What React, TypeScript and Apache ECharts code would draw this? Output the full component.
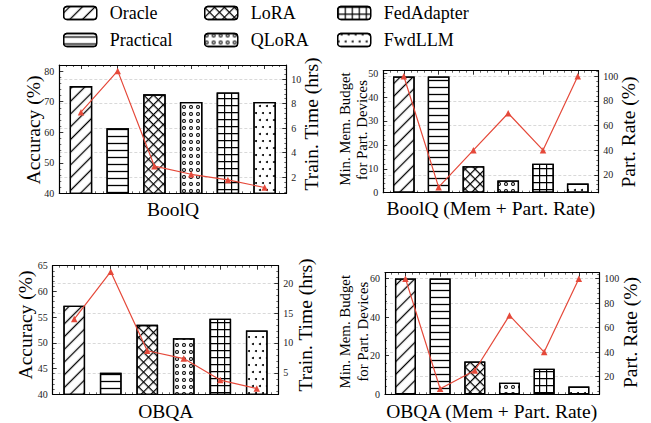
import React, { useEffect, useRef } from 'react';
import * as echarts from 'echarts';

// ---------- data ----------
const methods = ['Oracle', 'Practical', 'LoRA', 'QLoRA', 'FedAdapter', 'FwdLLM'];

const boolqAccuracy = [75.1, 61.3, 72.4, 69.9, 73.0, 69.9];
const boolqTrainTime = [7.3, 10.67, 2.9, 2.24, 1.78, 1.16];
const boolqMemBudget = [48.6, 48.6, 11.1, 5.1, 12.1, 3.8];
const boolqPartRate = [100, 10, 40, 70, 40, 100];

const obqaAccuracy = [57.2, 44.2, 53.5, 50.9, 54.7, 52.4];
const obqaTrainTime = [14.0, 21.9, 8.7, 7.4, 3.8, 2.4];
const obqaMemBudget = [60, 60, 17, 6, 13.2, 4];
const obqaPartRate = [100, 10, 25, 70, 40, 100];

// ---------- styles ----------
const RED = '#e5493a';
const FONT = '"Liberation Serif", "Times New Roman", serif';

const LINE_PATH = 'path://M0 0H10V1.3H0Z';
const GRID_PATH = 'path://M0 0H7V1.2H1.2V7H0Z';
const RING_PATH =
  'path://M2 0A2 2 0 1 1 2 4A2 2 0 1 1 2 0Z M2 1.1A0.9 0.9 0 1 0 2 2.9A0.9 0.9 0 1 0 2 1.1Z';

const decals: any[] = [
  { symbol: LINE_PATH, symbolSize: 1, symbolKeepAspect: true, dashArrayX: [10, 0], dashArrayY: [9, 0], rotation: -Math.PI / 4, color: '#000' },
  { symbol: LINE_PATH, symbolSize: 1, symbolKeepAspect: true, dashArrayX: [10, 0], dashArrayY: [7, 0], rotation: 0, color: '#000' },
  { symbol: GRID_PATH, symbolSize: 1, symbolKeepAspect: false, dashArrayX: [7, 0], dashArrayY: [7, 0], rotation: Math.PI / 4, color: '#000' },
  { symbol: RING_PATH, symbolSize: 1, symbolKeepAspect: true, dashArrayX: [4, 3], dashArrayY: [4, 3], rotation: 0, color: '#000' },
  { symbol: GRID_PATH, symbolSize: 1, symbolKeepAspect: false, dashArrayX: [7, 0], dashArrayY: [7, 0], rotation: 0, color: '#000' },
  { symbol: 'circle', symbolSize: 1, dashArrayX: [[2, 5], [0, 3, 2, 2]], dashArrayY: [2, 5], rotation: 0, color: '#000' },
];

const panels = [
  { grid: { left: 59.3, top: 65, width: 227, height: 128.3 }, bars: boolqAccuracy, line: boolqTrainTime,
    yL: { min: 40, max: 82, interval: 10 }, yR: { min: 0.69, max: 11.15 }, barWidth: 22.5 },
  { grid: { left: 383.3, top: 70.7, width: 215, height: 122 }, bars: boolqMemBudget, line: boolqPartRate,
    yL: { min: 0, max: 51, interval: 10 }, yR: { min: 5.5, max: 104.5 }, barWidth: 21.7 },
  { grid: { left: 52.7, top: 265.7, width: 225.6, height: 128.6 }, bars: obqaAccuracy, line: obqaTrainTime,
    yL: { min: 40, max: 65, interval: 5 }, yR: { min: 1.43, max: 22.9 }, barWidth: 21.7 },
  { grid: { left: 385, top: 272.7, width: 214.3, height: 121.6 }, bars: obqaMemBudget, line: obqaPartRate,
    yL: { min: 0, max: 63, interval: 20 }, yR: { min: 5.5, max: 104.9 }, barWidth: 21 },
];

const titles = [
  { text: 'Accuracy (%)', x: 33.3, y: 130, rot: true, size: 19.5 },
  { text: 'Train. Time (hrs)', x: 311.7, y: 124, rot: true, size: 19.5 },
  { text: 'BoolQ', x: 173, y: 209, rot: false, size: 19.5 },
  { text: 'Min. Mem. Budget', x: 345, y: 129, rot: true, size: 14.8 },
  { text: 'for Part. Devices', x: 361.7, y: 130, rot: true, size: 14.8 },
  { text: 'Part. Rate (%)', x: 628, y: 132, rot: true, size: 19.5 },
  { text: 'BoolQ (Mem + Part. Rate)', x: 490.8, y: 208.3, rot: false, size: 19.5 },
  { text: 'Accuracy (%)', x: 25, y: 325, rot: true, size: 19.5 },
  { text: 'Train. Time (hrs)', x: 305, y: 325, rot: true, size: 19.5 },
  { text: 'OBQA', x: 165.8, y: 411.7, rot: false, size: 19.5 },
  { text: 'Min. Mem. Budget', x: 345, y: 331.7, rot: true, size: 14.8 },
  { text: 'for Part. Devices', x: 363, y: 331.7, rot: true, size: 14.8 },
  { text: 'Part. Rate (%)', x: 630, y: 332.5, rot: true, size: 19.5 },
  { text: 'OBQA (Mem + Part. Rate)', x: 491.7, y: 411.7, rot: false, size: 19.5 },
];

function buildOption() {
  const grid: any[] = [];
  const xAxis: any[] = [];
  const yAxis: any[] = [];
  const series: any[] = [];
  const axisLine = { show: true, onZero: false, lineStyle: { color: '#000', width: 1.2 } };
  const tick = { show: true, inside: true, length: 4, lineStyle: { color: '#000', width: 0.8 } };
  const minor = { show: true, splitNumber: 5, length: 2, lineStyle: { color: '#000', width: 0.6 } };
  const label = { fontFamily: FONT, fontSize: 10, color: '#222', margin: 5 };

  panels.forEach((p, g) => {
    grid.push({ ...p.grid, containLabel: false });
    ['bottom', 'top'].forEach((pos) => {
      xAxis.push({
        type: 'value', gridIndex: g, position: pos, min: -0.59, max: 5.59, splitNumber: 6,
        axisLine, axisTick: tick, minorTick: minor, axisLabel: { show: false },
        splitLine: { show: false },
      });
    });
    yAxis.push({
      type: 'value', gridIndex: g, position: 'left', min: p.yL.min, max: p.yL.max, interval: p.yL.interval,
      axisLine, axisTick: tick, minorTick: minor,
      axisLabel: { ...label, showMinLabel: true, showMaxLabel: p.yL.max % p.yL.interval === 0 },
      splitLine: { show: false },
    });
    yAxis.push({
      type: 'value', gridIndex: g, position: 'right', min: p.yR.min, max: p.yR.max, splitNumber: 5,
      axisLine, axisTick: tick, minorTick: minor,
      axisLabel: { ...label, showMinLabel: false, showMaxLabel: false },
      splitLine: { show: true, lineStyle: { color: '#cfcfcf', type: [3, 2], width: 0.8 } },
    });
    methods.forEach((m, i) => {
      series.push({
        type: 'bar', name: m, xAxisIndex: 2 * g, yAxisIndex: 2 * g,
        data: [[i, p.bars[i]]], barWidth: p.barWidth, barGap: '-100%', z: 2,
        itemStyle: { color: '#fff', borderColor: '#000', borderWidth: 1.3, decal: decals[i] },
      });
    });
    series.push({
      type: 'line', name: 'line' + g, xAxisIndex: 2 * g, yAxisIndex: 2 * g + 1, z: 5,
      data: p.line.map((v, i) => [i, v]),
      symbol: 'triangle', symbolSize: 6.5,
      itemStyle: { color: RED }, lineStyle: { color: RED, width: 1.2 },
    });
  });

  const legendBase = {
    orient: 'vertical', top: 4, itemWidth: 33, itemHeight: 13, itemGap: 9, padding: 0,
    textStyle: { fontFamily: FONT, fontSize: 18, color: '#000', padding: [0, 0, 0, 8] },
    itemStyle: { borderColor: '#000', borderWidth: 1.3 },
    selectedMode: false,
  };
  const legend = [
    { ...legendBase, left: 63, data: methods.slice(0, 2) },
    { ...legendBase, left: 204, data: methods.slice(2, 4) },
    { ...legendBase, left: 337, data: methods.slice(4, 6) },
  ];

  const graphic = titles.map((t) => ({
    type: 'text', x: t.x, y: t.y, rotation: t.rot ? Math.PI / 2 : 0,
    style: { text: t.text, fontFamily: FONT, fontSize: t.size, fill: '#000', textAlign: 'center', textVerticalAlign: 'middle' },
  }));

  return { animation: false, backgroundColor: '#fff', grid, xAxis, yAxis, series, legend, graphic };
}

export default function App() {
  const ref = useRef<HTMLDivElement>(null);
  useEffect(() => {
    if (!ref.current) return;
    const chart = echarts.init(ref.current, undefined, { renderer: 'svg' });
    chart.setOption(buildOption() as any);
    return () => chart.dispose();
  }, []);
  return <div ref={ref} style={{ position: 'absolute', left: 0, top: 0, width: 651, height: 423 }} />;
}
